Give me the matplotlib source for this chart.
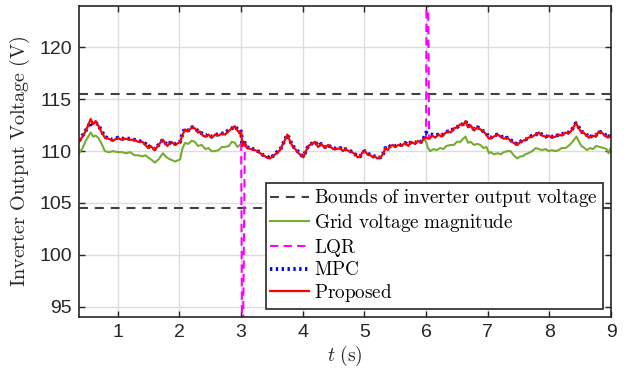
import numpy as np
import matplotlib
matplotlib.use("Agg")
import matplotlib.pyplot as plt

plt.rcParams["mathtext.fontset"] = "cm"
plt.rcParams["font.family"] = ["Liberation Sans", "DejaVu Sans"]

# time axis shared by proposed / MPC (s)
t = [0.37, 0.45, 0.52, 0.56, 0.60, 0.64, 0.68, 0.73, 0.79, 0.85, 0.92, 1.00, 1.05, 1.12,
     1.20, 1.27, 1.33, 1.40, 1.45, 1.49, 1.53, 1.60, 1.66, 1.73, 1.80, 1.87, 1.93, 2.01,
     2.05, 2.09, 2.14, 2.20, 2.25, 2.30, 2.33, 2.38, 2.42, 2.47, 2.52, 2.58, 2.63, 2.69,
     2.74, 2.79, 2.85, 2.90, 2.94, 2.98, 3.00, 3.02, 3.06, 3.10, 3.16, 3.22, 3.27, 3.31,
     3.36, 3.42, 3.47, 3.53, 3.58, 3.63, 3.68, 3.72, 3.75, 3.79, 3.83, 3.88, 3.93, 3.98,
     4.01, 4.05, 4.09, 4.14, 4.20, 4.25, 4.30, 4.36, 4.41, 4.45, 4.50, 4.55, 4.61, 4.65,
     4.69, 4.75, 4.80, 4.85, 4.89, 4.93, 4.97, 5.01, 5.05, 5.10, 5.14, 5.17, 5.21, 5.26,
     5.30, 5.34, 5.38, 5.42, 5.46, 5.50, 5.55, 5.60, 5.66, 5.71, 5.76, 5.82, 5.87, 5.92,
     5.96, 6.00, 6.05, 6.10, 6.15, 6.20, 6.25, 6.30, 6.35, 6.40, 6.45, 6.50, 6.56, 6.60,
     6.64, 6.68, 6.72, 6.78, 6.83, 6.88, 6.93, 6.98, 7.02, 7.05, 7.10, 7.16, 7.21, 7.26,
     7.32, 7.37, 7.42, 7.48, 7.53, 7.57, 7.61, 7.66, 7.72, 7.78, 7.83, 7.88, 7.94, 7.99,
     8.04, 8.10, 8.15, 8.20, 8.26, 8.31, 8.36, 8.40, 8.43, 8.47, 8.51, 8.55, 8.59, 8.64,
     8.70, 8.75, 8.80, 8.85, 8.90, 8.95, 9.00]

proposed = [110.9, 111.6, 112.5, 113.1, 112.6, 112.9, 112.5, 111.9, 111.3, 111.2, 111.0, 111.3, 111.1, 111.2,
            111.1, 111.1, 110.9, 110.9, 110.6, 110.3, 110.5, 110.1, 110.6, 111.1, 110.5, 110.9, 110.6, 110.9,
            111.6, 112.1, 111.9, 112.3, 112.2, 111.8, 111.9, 111.5, 111.4, 111.6, 111.3, 111.6, 111.5, 111.7,
            111.6, 111.9, 112.2, 112.4, 112.0, 111.7, 111.9, 110.5, 110.8, 110.3, 110.2, 110.1, 110.0, 109.8,
            109.6, 109.4, 109.3, 109.6, 109.8, 110.1, 110.7, 111.2, 111.6, 111.0, 110.5, 110.2, 109.8, 109.6,
            109.4, 110.0, 110.5, 110.7, 110.9, 110.4, 110.7, 110.3, 110.6, 110.4, 110.2, 110.2, 110.3, 110.0,
            110.2, 110.0, 109.9, 109.7, 109.4, 109.5, 109.9, 110.0, 109.7, 109.6, 109.4, 109.5, 109.3, 109.4,
            109.7, 110.3, 110.1, 110.5, 110.6, 110.4, 110.6, 110.5, 110.8, 110.5, 110.9, 110.7, 111.0, 110.8,
            111.2, 111.3, 111.2, 111.5, 111.3, 111.6, 111.4, 111.7, 111.9, 111.8, 112.2, 112.3, 112.6, 112.5,
            112.9, 112.3, 112.5, 112.0, 112.3, 112.1, 111.9, 111.6, 111.2, 111.3, 111.4, 111.6, 111.4, 111.2,
            111.3, 111.0, 110.8, 110.6, 110.9, 111.0, 111.1, 111.3, 111.4, 111.6, 111.8, 111.5, 111.4, 111.5,
            111.3, 111.4, 111.6, 111.5, 111.8, 111.7, 112.0, 112.4, 112.7, 112.3, 111.9, 111.8, 111.6, 111.3,
            111.5, 111.4, 111.9, 111.8, 111.5, 111.3, 111.6]

mpc = [111.0, 111.7, 112.4, 112.8, 112.5, 112.7, 112.6, 112.0, 111.4, 111.2, 111.1, 111.3, 111.2, 111.2,
       111.2, 111.1, 111.0, 110.9, 110.7, 110.4, 110.5, 110.2, 110.6, 111.1, 110.6, 110.9, 110.7, 110.9,
       111.7, 112.2, 112.0, 112.3, 112.3, 111.9, 111.9, 111.6, 111.5, 111.6, 111.4, 111.6, 111.6, 111.7,
       111.7, 112.0, 112.2, 112.4, 112.1, 111.8, 111.9, 110.6, 110.8, 110.4, 110.2, 110.2, 110.0, 109.9,
       109.6, 109.5, 109.3, 109.6, 109.9, 110.1, 110.7, 111.2, 111.6, 111.1, 110.5, 110.3, 109.9, 109.6,
       109.5, 110.0, 110.5, 110.7, 110.9, 110.5, 110.7, 110.4, 110.6, 110.4, 110.3, 110.2, 110.3, 110.1,
       110.2, 110.1, 109.9, 109.7, 109.5, 109.5, 109.9, 110.0, 109.8, 109.6, 109.5, 109.5, 109.4, 109.4,
       109.7, 110.3, 110.2, 110.5, 110.6, 110.5, 110.6, 110.6, 110.8, 110.6, 110.9, 110.8, 111.0, 110.9,
       111.2, 111.8, 111.6, 111.6, 111.5, 111.6, 111.5, 111.7, 111.9, 111.9, 112.2, 112.3, 112.6, 112.6,
       112.9, 112.4, 112.5, 112.1, 112.3, 112.2, 111.9, 111.7, 111.3, 111.3, 111.5, 111.6, 111.5, 111.2,
       111.3, 111.1, 110.8, 110.7, 110.9, 111.1, 111.1, 111.3, 111.5, 111.6, 111.8, 111.6, 111.4, 111.5,
       111.4, 111.4, 111.6, 111.6, 111.8, 111.8, 112.0, 112.4, 112.7, 112.4, 111.9, 111.8, 111.7, 111.3,
       111.5, 111.5, 111.9, 111.8, 111.6, 111.3, 111.6]

# grid voltage: hidden under proposed between 3 s and 6 s
grid_t = [0.37, 0.42, 0.48, 0.56, 0.60, 0.64, 0.68, 0.73, 0.79, 0.86, 0.92, 1.00, 1.07, 1.13,
          1.20, 1.27, 1.33, 1.40, 1.45, 1.49, 1.54, 1.60, 1.66, 1.73, 1.79, 1.85, 1.93, 2.01,
          2.05, 2.09, 2.14, 2.20, 2.25, 2.30, 2.36, 2.42, 2.47, 2.52, 2.58, 2.63, 2.69, 2.74,
          2.80, 2.85, 2.90, 2.94, 2.98, 3.00, 3.02, np.nan,
          5.96, 6.00, 6.03, 6.07, 6.12, 6.17, 6.23, 6.28, 6.33, 6.40, 6.45, 6.50, 6.56, 6.60,
          6.64, 6.68, 6.72, 6.78, 6.83, 6.88, 6.93, 6.98, 7.02, 7.05, 7.10, 7.16, 7.21, 7.26,
          7.32, 7.37, 7.42, 7.48, 7.53, 7.57, 7.61, 7.66, 7.72, 7.78, 7.83, 7.88, 7.94, 7.99,
          8.04, 8.10, 8.15, 8.20, 8.26, 8.31, 8.36, 8.40, 8.44, 8.48, 8.52, 8.57, 8.61, 8.66,
          8.71, 8.76, 8.82, 8.88, 8.93, 8.96, 9.00]
grid_v = [109.8, 110.2, 111.0, 111.8, 111.4, 111.5, 111.3, 110.8, 110.0, 109.9, 110.0, 109.9, 109.9, 109.8,
          109.9, 109.6, 109.6, 109.5, 109.6, 109.4, 109.2, 108.9, 109.2, 109.8, 109.4, 109.2, 109.0, 109.2,
          110.3, 110.8, 110.7, 111.0, 110.9, 110.5, 110.6, 110.2, 110.3, 110.0, 110.0, 110.1, 110.4, 110.4,
          110.5, 110.9, 110.8, 110.4, 110.6, 110.6, 110.5, np.nan,
          111.2, 110.9, 110.3, 110.0, 110.2, 110.1, 110.3, 110.2, 110.5, 110.6, 110.6, 110.9, 110.9, 111.2,
          111.4, 110.8, 110.9, 110.6, 110.7, 110.6, 110.3, 110.4, 109.8, 109.9, 109.7, 109.8, 109.7, 109.9,
          110.0, 110.0, 109.6, 109.3, 109.5, 109.5, 109.7, 109.8, 110.0, 110.3, 110.2, 110.1, 110.2, 110.0,
          110.1, 110.0, 110.1, 110.3, 110.3, 110.5, 110.8, 111.1, 111.4, 110.9, 110.5, 110.3, 110.1, 110.3,
          110.2, 110.5, 110.4, 110.3, 110.2, 109.8, 110.4]

# LQR: same as proposed except the two spikes at the switching instants
lqr_t = [2.98, 3.00, 3.02, 3.06, 3.10, np.nan, 5.96, 6.00, 6.015, 6.05, 6.10]
lqr_v = [111.7, 111.9, 85.0, 110.8, 110.3, np.nan, 111.2, 111.3, 140.0, 111.2, 111.5]

bounds = [115.5, 104.5]

fig = plt.figure(figsize=(6.38, 3.76), dpi=100)
ax = fig.add_axes([0.1238, 0.1569, 0.8339, 0.8271])

for i, b in enumerate(bounds):
    ax.axhline(b, color="#404040", lw=1.5, linestyle=(0, (4.3, 3.3)),
               label=r"$\mathrm{Bounds\ of\ inverter\ output\ voltage}$" if i == 0 else None)
ax.plot(grid_t, grid_v, color="#77AC30", lw=1.5, label=r"$\mathrm{Grid\ voltage\ magnitude}$")
ax.plot(lqr_t, lqr_v, color="#FF00FF", lw=1.5, linestyle=(0, (4, 2.5)), label=r"$\mathrm{LQR}$")
ax.plot(t, mpc, color="#0000FF", lw=2.8, linestyle=(0, (0.6, 0.9)), label=r"$\mathrm{MPC}$")
ax.plot(t, proposed, color="#FF0000", lw=1.6, label=r"$\mathrm{Proposed}$")

ax.set_xlim(0.37, 9)
ax.set_ylim(94, 124)
ax.set_xticks(range(1, 10))
ax.set_yticks(range(95, 121, 5))
ax.tick_params(direction="in", top=True, right=True, labelsize=14, length=4,
               width=1, colors="#262626", pad=5)
for s in ax.spines.values():
    s.set_linewidth(1.2)
    s.set_color("#262626")
ax.grid(True, color="#dcdcdc", lw=1)
ax.set_axisbelow(True)

ax.set_xlabel(r"$t\ \mathrm{(s)}$", fontsize=14, color="#262626", labelpad=2)
ax.set_ylabel(r"$\mathrm{Inverter\ Output\ Voltage\ (V)}$", fontsize=14.5, color="#262626", labelpad=5)

leg = ax.legend(loc="lower right", bbox_to_anchor=(0.985, 0.026), fontsize=13.8,
                frameon=True, fancybox=False, framealpha=1, edgecolor="#262626",
                handlelength=2.0, handletextpad=0.3, labelspacing=0.14, borderpad=0.25,
                borderaxespad=0)
leg.get_frame().set_linewidth(1.2)

fig.savefig("out.png", dpi=100)
